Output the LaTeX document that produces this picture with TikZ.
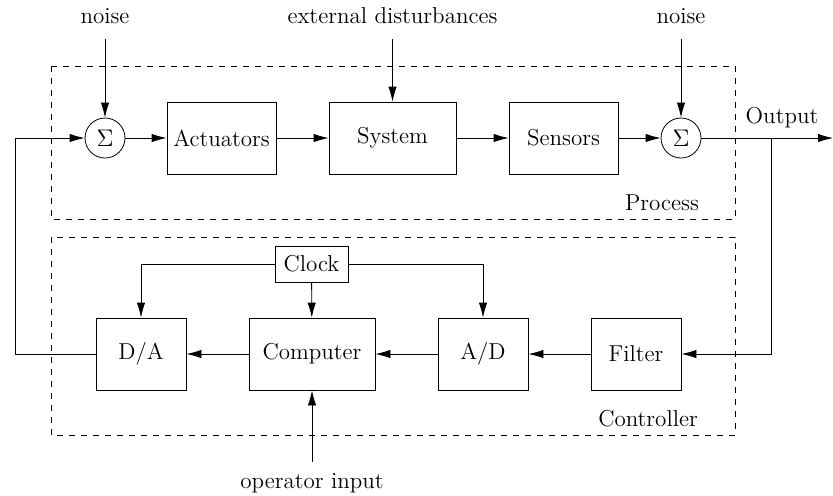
\documentclass[tikz,border=0pt]{standalone}
\usetikzlibrary{arrows.meta}
\begin{document}
\begin{tikzpicture}[x=0.5pt,y=-0.5pt,
  font=\fontsize{11.5}{13.5}\selectfont,
  blk/.style={draw, rectangle, minimum height=36pt, inner sep=0pt},
  sumnode/.style={draw, circle, minimum size=20pt, inner sep=0pt},
  lbl/.style={inner sep=0pt},
  arr/.style={-{Latex[length=7.5pt,width=4.2pt]}},
  region/.style={draw, dashed}]
\useasboundingbox (0,0) rectangle (833,495);
% regions
\draw[region] (51,66) rectangle (735,219);
\draw[region] (51,237) rectangle (735,435);
\node[lbl] (proclbl) at (662,203) {Process};
\node[lbl] (ctrllbl) at (648,419) {Controller};
% top labels
\node[lbl] (noise1) at (105,16) {noise};
\node[lbl] (ext) at (392.5,16) {external disturbances};
\node[lbl] (noise2) at (681,16) {noise};
\coordinate (n1) at (105,39);
\coordinate (e1) at (392.5,39);
\coordinate (n2) at (681,39);
% process row
\node[sumnode] (s1) at (105,138) {$\Sigma$};
\node[blk, minimum width=54.5pt] (act) at (221.5,138) {Actuators};
\node[blk, minimum width=63.5pt] (sys) at (392.5,138) {System};
\node[blk, minimum width=54.5pt] (sen) at (563.5,138) {Sensors};
\node[sumnode] (s2) at (681,138) {$\Sigma$};
\coordinate (br) at (771,138);
\coordinate (out) at (833,138);
\node[lbl] (outlbl) at (782,118) {Output};
% controller row
\node[blk, minimum width=36.5pt, minimum height=18pt] (clock) at (311.5,264) {Clock};
\node[blk, minimum width=45pt] (da) at (141,354) {D/A};
\node[blk, minimum width=63pt] (comp) at (312,354) {Computer};
\node[blk, minimum width=45pt] (ad) at (483,354) {A/D};
\node[blk, minimum width=45pt] (filt) at (636,354) {Filter};
\coordinate (op) at (312,462);
\node[lbl] (oplbl) at (312,483) {operator input};
\coordinate (fbl) at (15,354);
\coordinate (fbr) at (771,354);
% connectors
\draw[arr] (n1) -- (s1);
\draw[arr] (e1) -- (sys);
\draw[arr] (n2) -- (s2);
\draw[arr] (s1) -- (act);
\draw[arr] (act) -- (sys);
\draw[arr] (sys) -- (sen);
\draw[arr] (sen) -- (s2);
\draw[arr] (s2) -- (out);
\draw[arr] (br) -- (fbr) -- (filt.east);
\draw[arr] (filt) -- (ad);
\draw[arr] (ad) -- (comp);
\draw[arr] (comp) -- (da);
\draw[arr] (clock.west) -| (da.north);
\draw[arr] (clock) -- (comp);
\draw[arr] (clock.east) -| (ad.north);
\draw[arr] (op) -- (comp.south);
\draw[arr] (da.west) -- (fbl) |- (s1.west);
\end{tikzpicture}
\end{document}
